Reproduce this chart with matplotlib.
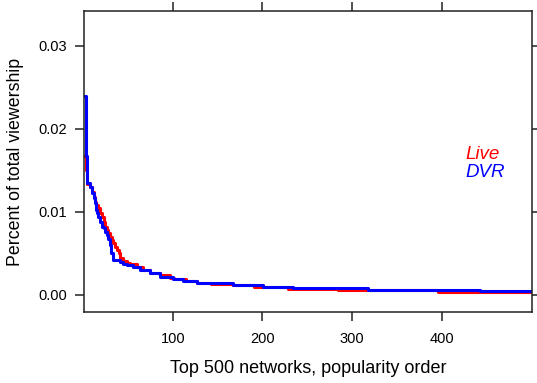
import matplotlib
matplotlib.use("Agg")
import matplotlib.pyplot as plt

# step breakpoints: rank where a value starts, value (share of viewership)
live_rank = [1, 3, 5, 8, 10, 12, 14, 15, 17, 19, 21, 23, 25, 27, 28, 30, 32, 34,
             36, 38, 40, 41, 45, 49, 53, 60, 67, 75, 86, 97, 102, 115, 127, 143,
             167, 190, 228, 284, 396, 500]
live_value = [0.0167, 0.0150, 0.0134, 0.0130, 0.01245, 0.01185, 0.01125, 0.01084,
              0.01044, 0.00984, 0.00944, 0.00884, 0.00823, 0.00783, 0.00743,
              0.00703, 0.00663, 0.00622, 0.00582, 0.00542, 0.00502, 0.00442,
              0.0041, 0.0039, 0.0037, 0.0034, 0.0030, 0.0026, 0.0024, 0.0021,
              0.0019, 0.0017, 0.0015, 0.00135, 0.0012, 0.00096, 0.00078,
              0.00056, 0.00036, 0.00036]

dvr_rank = [1, 3, 5, 8, 10, 12, 13, 15, 16, 17, 19, 21, 23, 25, 27, 28, 30, 31,
            34, 41, 45, 49, 56, 64, 75, 86, 100, 112, 127, 145, 167, 201, 234,
            317, 442, 500]
dvr_value = [0.0240, 0.0167, 0.0135, 0.0130, 0.01225, 0.01165, 0.01105, 0.0102,
             0.00984, 0.00944, 0.00884, 0.00823, 0.00803, 0.0076, 0.0072, 0.0068,
             0.0060, 0.0050, 0.0042, 0.0040, 0.0037, 0.0036, 0.0034, 0.0030,
             0.0026, 0.0022, 0.0019, 0.0017, 0.0015, 0.0014, 0.0012, 0.0010,
             0.0008, 0.00064, 0.00048, 0.00048]

x_ticks = [100, 200, 300, 400]
y_ticks = [0.00, 0.01, 0.02, 0.03]

plt.rcParams['font.family'] = ['Liberation Sans', 'DejaVu Sans']

fig = plt.figure(figsize=(5.37, 3.83), dpi=100)
ax = fig.add_axes([0.1564, 0.1854, 0.834, 0.786])

ax.plot(live_rank, live_value, drawstyle='steps-post', color='#ff0000', lw=2.2)
ax.plot(dvr_rank, dvr_value, drawstyle='steps-post', color='#0000ff', lw=2.2)

ax.set_xlim(1.2, 500)
ax.set_ylim(-0.00205, 0.03422)
ax.set_xticks(x_ticks)
ax.set_yticks(y_ticks)
ax.set_yticklabels(['%.2f' % v for v in y_ticks])

ax.tick_params(direction='out', length=6.5, width=1.1, labelsize=10.5,
               top=True, right=True, labeltop=False, labelright=False,
               color='#222222')
ax.tick_params(axis='y', pad=6)
ax.tick_params(axis='x', pad=8)
for s in ax.spines.values():
    s.set_linewidth(1.1)
    s.set_color('#222222')

ax.set_xlabel('Top 500 networks, popularity order', fontsize=13, labelpad=10)
ax.set_ylabel('Percent of total viewership', fontsize=12.8, labelpad=10)

ax.text(0.851, 0.5216, 'Live', transform=ax.transAxes, color='#ff0000',
        fontsize=13.5, style='italic', va='center', ha='left')
ax.text(0.851, 0.4618, 'DVR', transform=ax.transAxes, color='#0000ff',
        fontsize=13.5, style='italic', va='center', ha='left')

fig.savefig('out.png', dpi=100)
